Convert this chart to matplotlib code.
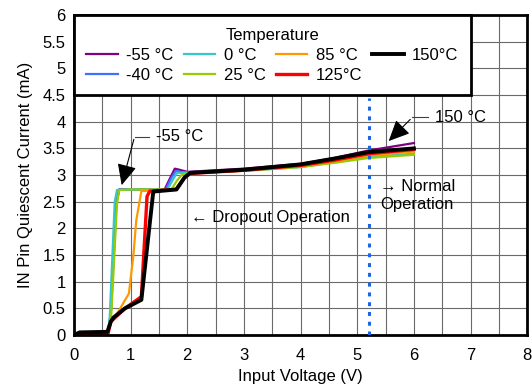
import numpy as np
import matplotlib
matplotlib.use("Agg")
import matplotlib.pyplot as plt
from matplotlib.ticker import MultipleLocator

plt.rcParams['font.family'] = ['Liberation Sans', 'DejaVu Sans']

# curve data (input voltage V, current mA)
labels = ['-55 °C', '-40 °C', '0 °C', '25 °C', '85 °C', '125°C', '150°C']
colors = ['#800080', '#3f6fff', '#33c9cc', '#99cc00', '#ff9900', '#ff0000', '#000000']
widths = [1.6, 1.6, 1.6, 1.6, 1.6, 2.4, 2.8]

x_m55 = [0, 0.1, 0.6, 0.65, 0.75, 0.8, 1.0, 1.6, 1.7, 1.78, 1.86, 2.0, 3.0, 4.0, 4.6, 5.2, 6.0]
y_m55 = [0, 0.05, 0.06, 0.4, 2.5, 2.73, 2.73, 2.73, 2.95, 3.12, 3.1, 3.06, 3.12, 3.21, 3.32, 3.46, 3.6]
x_m40 = [0, 0.1, 0.6, 0.65, 0.75, 0.8, 1.0, 1.62, 1.72, 1.8, 1.88, 2.0, 3.0, 4.0, 4.6, 5.2, 6.0]
y_m40 = [0, 0.05, 0.06, 0.4, 2.5, 2.73, 2.73, 2.73, 2.95, 3.08, 3.06, 3.05, 3.1, 3.18, 3.28, 3.4, 3.48]
x_0 = [0, 0.1, 0.6, 0.63, 0.72, 0.76, 1.0, 1.65, 1.75, 1.82, 1.9, 2.0, 3.0, 4.0, 4.6, 5.2, 6.0]
y_0 = [0, 0.05, 0.06, 0.3, 2.5, 2.72, 2.73, 2.73, 2.92, 3.04, 3.04, 3.04, 3.08, 3.15, 3.24, 3.34, 3.4]
x_25 = [0, 0.1, 0.6, 0.66, 0.76, 0.8, 1.0, 1.72, 1.82, 1.9, 2.0, 3.0, 4.0, 4.6, 5.2, 6.0]
y_25 = [0, 0.05, 0.06, 0.4, 2.47, 2.72, 2.73, 2.73, 2.9, 3.0, 3.03, 3.08, 3.15, 3.23, 3.32, 3.38]
x_85 = [0, 0.1, 0.6, 0.65, 0.75, 0.97, 1.05, 1.1, 1.19, 1.8, 1.95, 2.05, 3.0, 4.0, 4.6, 5.2, 6.0]
y_85 = [0, 0.05, 0.06, 0.25, 0.38, 0.78, 1.5, 2.15, 2.7, 2.73, 2.95, 3.03, 3.09, 3.17, 3.26, 3.37, 3.44]
x_125 = [0, 0.1, 0.6, 0.65, 0.9, 1.19, 1.29, 1.34, 1.8, 1.95, 2.05, 3.0, 4.0, 4.6, 5.2, 6.0]
y_125 = [0, 0.01, 0.02, 0.25, 0.5, 0.72, 2.6, 2.7, 2.73, 2.95, 3.03, 3.09, 3.18, 3.28, 3.4, 3.48]
x_150 = [0, 0.1, 0.59, 0.65, 0.7, 0.9, 1.19, 1.4, 1.81, 1.95, 2.05, 3.0, 4.0, 4.6, 5.2, 6.0]
y_150 = [0, 0.05, 0.06, 0.25, 0.33, 0.5, 0.66, 2.69, 2.73, 2.95, 3.04, 3.1, 3.2, 3.31, 3.43, 3.5]

xs = [x_m55, x_m40, x_0, x_25, x_85, x_125, x_150]
ys = [y_m55, y_m40, y_0, y_25, y_85, y_125, y_150]

v_normal = 5.2

fig = plt.figure(figsize=(5.32, 3.86), dpi=100)
ax = fig.add_axes([0.139, 0.132, 0.852, 0.829])

for x, y, c, lw, lab in zip(xs, ys, colors, widths, labels):
    ax.plot(x, y, color=c, lw=lw, label=lab)

ax.plot([v_normal, v_normal], [0, 4.45], color='#1a66e6', lw=2.2,
        linestyle=(0, (1.3, 1.9)), zorder=5)

ax.set_xlim(0, 8)
ax.set_ylim(0, 6)
ax.xaxis.set_major_locator(MultipleLocator(1))
ax.xaxis.set_minor_locator(MultipleLocator(0.5))
ax.yaxis.set_major_locator(MultipleLocator(0.5))
ax.yaxis.set_major_formatter(lambda v, p: f"{v:g}")
ax.grid(which='both', color='#6a6a6a', lw=0.8)
ax.set_axisbelow(True)
ax.tick_params(which='both', length=0, labelsize=12)
ax.tick_params(axis='x', pad=9)
ax.tick_params(axis='y', pad=6)
for s in ax.spines.values():
    s.set_linewidth(2)

ax.set_xlabel('Input Voltage (V)', fontsize=12, labelpad=5)
ax.set_ylabel('IN Pin Quiescent Current (mA)', fontsize=12, labelpad=7)

leg = ax.legend(loc='upper left', bbox_to_anchor=(0, 1), ncol=4, title='Temperature',
                fontsize=12, title_fontsize=12, frameon=True, fancybox=False,
                borderaxespad=0, handlelength=1.9, columnspacing=0.6,
                borderpad=0.75, labelspacing=0.3, handletextpad=0.5)
leg.get_frame().set_edgecolor('black')
leg.get_frame().set_linewidth(2)
leg.get_frame().set_alpha(1)

# annotations
ax.plot([1.07, 1.33], [3.72, 3.72], color='#404040', lw=0.8)
ax.annotate('', xy=(0.83, 2.76), xytext=(1.07, 3.72),
            arrowprops=dict(arrowstyle='-|>,head_length=1.3,head_width=0.6',
                            color='black', lw=0.8))
ax.text(1.45, 3.72, '-55 °C', fontsize=12, va='center')

ax.plot([5.97, 6.25], [4.08, 4.08], color='#404040', lw=0.8)
ax.annotate('', xy=(5.52, 3.6), xytext=(5.97, 4.08),
            arrowprops=dict(arrowstyle='-|>,head_length=1.3,head_width=0.6',
                            color='black', lw=0.8))
ax.text(6.38, 4.08, '150 °C', fontsize=12, va='center')

ax.text(2.07, 2.21, '\u2190 Dropout Operation', fontsize=12, va='center')
ax.text(5.4, 2.615, '\u2192 Normal\nOperation', fontsize=12, va='center', linespacing=1.25)

fig.savefig('out.png', dpi=100)
